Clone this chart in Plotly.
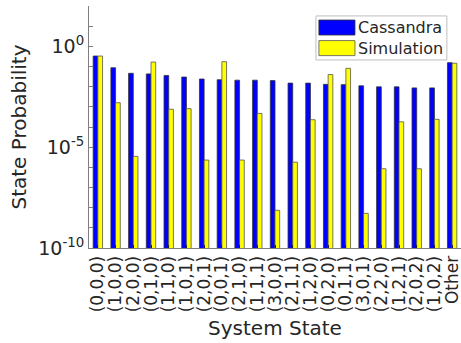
import plotly.graph_objects as go

states = ["(0,0,0)", "(1,0,0)", "(2,0,0)", "(0,1,0)", "(1,1,0)", "(1,0,1)", "(2,0,1)",
          "(0,0,1)", "(2,1,0)", "(1,1,1)", "(3,0,0)", "(2,1,1)", "(1,2,0)", "(0,2,0)",
          "(0,1,1)", "(3,0,1)", "(2,2,0)", "(1,2,1)", "(2,0,2)", "(1,0,2)", "Other"]

cassandra = [0.33, 0.087, 0.046, 0.043, 0.036, 0.030, 0.024, 0.022, 0.021, 0.021, 0.020,
             0.015, 0.015, 0.013, 0.0126, 0.011, 0.0098, 0.0098, 0.0087, 0.0087, 0.155]
simulation = [0.33, 1.6e-3, 3.5e-6, 0.166, 7.6e-4, 8.1e-4, 2.3e-6, 0.174, 2.3e-6, 4.7e-4,
              7.4e-9, 1.8e-6, 2.3e-4, 0.040, 0.081, 5.2e-9, 8.5e-7, 1.8e-4, 8.5e-7, 2.4e-4, 0.145]

ytick_major = [1e-10, 1e-5, 1.0]
ytick_major_text = ["10<sup>-10</sup>", "10<sup>-5</sup>", "10<sup>0</sup>"]
ytick_minor = [10.0 ** k for k in range(-10, 3)]

fig = go.Figure()
fig.add_trace(go.Bar(x=states, y=cassandra, name="Cassandra",
                     marker=dict(color="#0000FF", line=dict(color="#333333", width=0.8)),
                     showlegend=False))
fig.add_trace(go.Bar(x=states, y=simulation, name="Simulation",
                     marker=dict(color="#FFFF00", line=dict(color="#555555", width=0.8)),
                     showlegend=False))

font_family = "DejaVu Sans"
fig.update_layout(
    width=461, height=343,
    margin=dict(l=89, r=0, t=6, b=95),
    paper_bgcolor="white", plot_bgcolor="white",
    barmode="group", bargap=0.47, bargroupgap=0.0,
    font=dict(family=font_family, color="#262626"),
    xaxis=dict(
        type="category", range=[-0.5, 20.5], tickangle=-90,
        tickmode="linear", tick0=0, dtick=1, automargin=False,
        tickfont=dict(size=17, family=font_family, color="#262626"),
        showline=True, linecolor="#7f7f7f", linewidth=1,
        ticks="inside", ticklen=3, tickcolor="#222222",
        showgrid=False, zeroline=False,
        title=dict(text="System State", font=dict(size=20, family=font_family, color="#262626"),
                   standoff=9),
    ),
    yaxis=dict(
        type="log", range=[-10, 2], automargin=False,
        tickmode="array", tickvals=ytick_major, ticktext=ytick_major_text,
        tickfont=dict(size=19, family=font_family, color="#262626"),
        showline=True, linecolor="#7f7f7f", linewidth=1,
        ticks="inside", ticklen=4, tickcolor="#7f7f7f",
        minor=dict(tickmode="array", tickvals=ytick_minor, ticks="inside", ticklen=4,
                   tickcolor="#7f7f7f", showgrid=False),
        showgrid=False, zeroline=False,
        title=dict(text="State Probability", font=dict(size=20, family=font_family, color="#262626"),
                   standoff=6),
    ),
)

# Legend box drawn in paper coordinates (plot area spans 89..461 x 6..248 px)
fig.add_shape(type="rect", xref="paper", yref="paper", x0=0.610, x1=0.962, y0=0.777, y1=0.959,
              line=dict(color="#bfbfbf", width=1), fillcolor="white", layer="above")
fig.add_shape(type="rect", xref="paper", yref="paper", x0=0.618, x1=0.715, y0=0.880, y1=0.942,
              line=dict(color="#333333", width=0.8), fillcolor="#0000FF", layer="above")
fig.add_shape(type="rect", xref="paper", yref="paper", x0=0.618, x1=0.715, y0=0.795, y1=0.857,
              line=dict(color="#555555", width=0.8), fillcolor="#FFFF00", layer="above")
fig.add_annotation(xref="paper", yref="paper", x=0.718, y=0.911, text="Cassandra",
                   showarrow=False, xanchor="left", yanchor="middle",
                   font=dict(size=16, family=font_family, color="#262626"))
fig.add_annotation(xref="paper", yref="paper", x=0.718, y=0.826, text="Simulation",
                   showarrow=False, xanchor="left", yanchor="middle",
                   font=dict(size=16, family=font_family, color="#262626"))

fig.write_html("out.html", config={"displayModeBar": False},
               post_script="document.body.style.margin='0';")
